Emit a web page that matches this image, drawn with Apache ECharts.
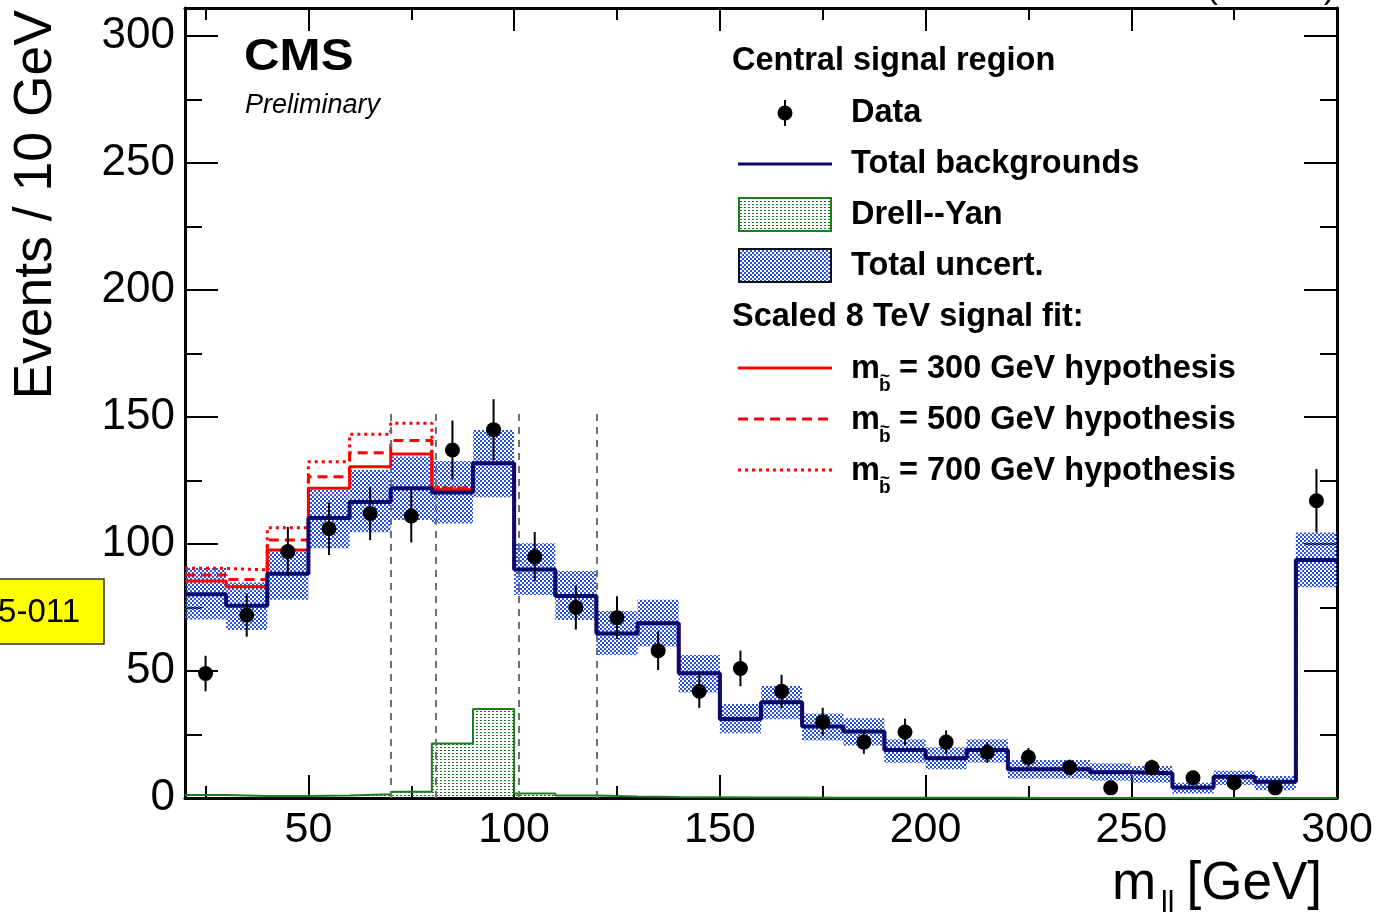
<!DOCTYPE html>
<html>
<head>
<meta charset="utf-8">
<script src="https://cdn.jsdelivr.net/npm/echarts@6/dist/echarts.min.js"></script>
<style>
  html, body { margin: 0; padding: 0; background: #fff; }
  #chart { width: 1381px; height: 920px; }
</style>
</head>
<body>
<div id="chart"></div>
<script>
// bin edges of the m_ll histogram (10 GeV bins)
const binEdges = [20, 30, 40, 50, 60, 70, 80, 90, 100, 110, 120, 130, 140, 150, 160, 170,
  180, 190, 200, 210, 220, 230, 240, 250, 260, 270, 280, 290, 300];
const binCenters = [25, 35, 45, 55, 65, 75, 85, 95, 105, 115, 125, 135, 145, 155, 165, 175,
  185, 195, 205, 215, 225, 235, 245, 255, 265, 275, 285, 295];

const dataVals = [49, 72, 97, 106, 112, 111, 137, 145, 95, 75, 71, 58, 42, 51, 42, 30,
  22, 26, 22, 18, 16, 12, 4, 12, 8, 6, 4, 117];
const dataErr = [7, 8.5, 9.7, 10.3, 10.5, 10.4, 11.6, 12, 9.7, 8.7, 8.4, 7.6, 6.5, 7, 6.5, 5.5,
  4.6, 5.2, 4.6, 4.1, 3.7, 3.1, 2, 3.1, 2.7, 2.3, 2, 12.5];

const totalBkg = [80.2, 75.7, 88.3, 110.2, 116.5, 121.9, 120.3, 131.8, 90.0, 79.5, 64.8, 68.8, 49.1, 31.1, 37.7, 28.1,
  26.2, 18.9, 15.6, 18.9, 11.3, 11.3, 10.1, 9.7, 4.1, 8.4, 6.4, 93.7];
const bkgUp = [90.5, 84.8, 97.0, 121.3, 129.1, 134.4, 132.7, 144.9, 100.3, 89.4, 73.6, 78.0, 56.3, 37.0, 44.1, 33.3,
  31.4, 23.1, 20.0, 23.1, 15.0, 15.0, 13.7, 12.6, 6.0, 10.7, 8.7, 104.5];
const bkgDown = [70.3, 66.1, 78.0, 98.3, 104.6, 109.4, 108.1, 118.4, 79.9, 70.1, 56.3, 59.6, 41.5, 25.5, 31.0, 22.6,
  20.7, 13.9, 11.3, 14.0, 7.7, 7.7, 6.8, 6.0, 1.8, 5.1, 3.1, 83.0];

const drellYan = [1.2, 0.8, 0.8, 1.0, 1.5, 2.5, 21.5, 35.0, 1.8, 1.0, 0.6, 0.4, 0.3, 0.2, 0.2, 0.1,
  0.1, 0.1, 0.1, 0.1, 0, 0, 0, 0, 0, 0, 0, 0];

const sig300 = [85.4, 83.2, 97.6, 121.9, 130.4, 135.4, 121.3, 131.8, 90.0, 79.5, 64.8, 68.8, 49.1, 31.1, 37.7, 28.1,
  26.2, 18.9, 15.6, 18.9, 11.3, 11.3, 10.1, 9.7, 4.1, 8.4, 6.4, 93.7];
const sig500 = [87.8, 86.0, 101.6, 126.5, 135.9, 140.7, 121.8, 131.8, 90.0, 79.5, 64.8, 68.8, 49.1, 31.1, 37.7, 28.1,
  26.2, 18.9, 15.6, 18.9, 11.3, 11.3, 10.1, 9.7, 4.1, 8.4, 6.4, 93.7];
const sig700 = [90.4, 89.8, 106.4, 132.4, 143.2, 147.5, 122.3, 131.8, 90.0, 79.5, 64.8, 68.8, 49.1, 31.1, 37.7, 28.1,
  26.2, 18.9, 15.6, 18.9, 11.3, 11.3, 10.1, 9.7, 4.1, 8.4, 6.4, 93.7];

// Z-window / signal region boundaries
const zWindow = [70, 81, 101, 120];
const zWindowTop = 153;

const xMajor = [50, 100, 150, 200, 250, 300];
const xMinor = [25, 75, 125, 175, 225, 275];
const yMajor = [0, 50, 100, 150, 200, 250, 300];
const yMinor = [25, 75, 125, 175, 225, 275];

const FONT = '"Liberation Sans", Arial, Helvetica, sans-serif';
const NAVY = "#0a0a6e";
const RED = "#ff0000";
const GREEN = "#1b7d1b";

function makePattern(w, h, color, cells) {
  const c = document.createElement("canvas");
  c.width = w;
  c.height = h;
  const ctx = c.getContext("2d");
  ctx.fillStyle = color;
  cells.forEach(([x, y, cw, ch]) => ctx.fillRect(x, y, cw, ch));
  return { image: c, repeat: "repeat" };
}

const bluePattern = makePattern(4, 4, "#2a52e2", [[0, 0, 2, 2], [2, 2, 2, 2]]);
const greenPattern = makePattern(4, 3, "#1b6e1b", [[0, 0, 2, 1]]);

function stepPoints(values) {
  const pts = [];
  values.forEach((v, i) => {
    pts.push([binEdges[i], v]);
    pts.push([binEdges[i + 1], v]);
  });
  return pts;
}

function stepLine(name, values, color, width, dash, z) {
  return {
    name, type: "line", data: stepPoints(values), showSymbol: false, symbol: "none",
    lineStyle: { color, width, type: dash || "solid" }, z, silent: true
  };
}

const bandData = totalBkg.map((v, i) => [binEdges[i], binEdges[i + 1], bkgDown[i], bkgUp[i]]);
const errData = dataVals.map((v, i) => [binCenters[i], v, dataErr[i]]);
const pointData = dataVals.map((v, i) => [binCenters[i], v]);

const hiddenLabel = { show: false };

function xAx(pos, ticks, len, withLine, withLabel) {
  return {
    type: "value", position: pos, min: 20, max: 300,
    axisLine: { show: withLine, onZero: false, lineStyle: { color: "#000", width: 3 } },
    axisTick: { show: true, inside: true, length: len, customValues: ticks, lineStyle: { color: "#000", width: 2 } },
    axisLabel: withLabel ? { customValues: ticks, fontSize: 43, fontFamily: FONT, color: "#000", margin: 11 } : hiddenLabel,
    splitLine: { show: false }
  };
}

function yAx(pos, ticks, len, withLine, withLabel) {
  return {
    type: "value", position: pos, min: 0, max: 311,
    axisLine: { show: withLine, onZero: false, lineStyle: { color: "#000", width: 3 } },
    axisTick: { show: true, inside: true, length: len, customValues: ticks, lineStyle: { color: "#000", width: 2 } },
    axisLabel: withLabel ? { customValues: ticks, fontSize: 44, fontFamily: FONT, color: "#000", margin: 10 } : hiddenLabel,
    splitLine: { show: false }
  };
}

function legendText(x, y, text, size) {
  return {
    type: "text", x, y, silent: true,
    style: { text, font: `bold ${size || 32.5}px ${FONT}`, fill: "#000", align: "left", verticalAlign: "middle" }
  };
}

function massLabel(y, mass) {
  return [
    legendText(851, y, "m"),
    { type: "text", x: 880, y: y + 7, style: { text: "~", font: `bold 17px ${FONT}`, fill: "#000", align: "left", verticalAlign: "middle" } },
    { type: "text", x: 879, y: y + 17, style: { text: "b", font: `bold 19px ${FONT}`, fill: "#000", align: "left", verticalAlign: "middle" } },
    legendText(899, y, `= ${mass} GeV hypothesis`)
  ];
}

const graphics = [
  // CMS label
  { type: "text", x: 244, y: 58, scaleX: 1.12, style: { text: "CMS", font: `bold 44px ${FONT}`, fill: "#000", verticalAlign: "middle" } },
  { type: "text", x: 245, y: 105, style: { text: "Preliminary", font: `italic 27px ${FONT}`, fill: "#000", verticalAlign: "middle" } },
  // cut-off header on top right
  { type: "text", x: 1335, y: 6, style: { text: "(13 TeV)", font: `34px ${FONT}`, fill: "#000", align: "right", verticalAlign: "bottom" } },
  // axis titles
  { type: "text", x: 36, y: 10, rotation: Math.PI / 2, style: { text: "Events / 10 GeV", font: `53.5px ${FONT}`, fill: "#000", align: "right", verticalAlign: "middle" } },
  { type: "text", x: 1112, y: 884, style: { text: "m", font: `53px ${FONT}`, fill: "#000", align: "left", verticalAlign: "middle" } },
  { type: "text", x: 1161, y: 904, style: { text: "ll", font: `30px ${FONT}`, fill: "#000", align: "left", verticalAlign: "middle" } },
  { type: "text", x: 1322, y: 884, style: { text: "[GeV]", font: `53px ${FONT}`, fill: "#000", align: "right", verticalAlign: "middle" } },
  // yellow tag on the left edge
  { type: "rect", shape: { x: -10, y: 579, width: 114, height: 65 }, style: { fill: "#ffff00", stroke: "#333", lineWidth: 1.5 } },
  { type: "text", x: 80, y: 613, style: { text: "5-011", font: `33px ${FONT}`, fill: "#000", align: "right", verticalAlign: "middle" } },
  // legend
  legendText(732, 61, "Central signal region"),
  { type: "line", shape: { x1: 785, y1: 100, x2: 785, y2: 126 }, style: { stroke: "#000", lineWidth: 2 } },
  { type: "circle", shape: { cx: 785, cy: 113, r: 7.5 }, style: { fill: "#000" } },
  legendText(851, 113, "Data"),
  { type: "line", shape: { x1: 738, y1: 164, x2: 832, y2: 164 }, style: { stroke: NAVY, lineWidth: 3 } },
  legendText(851, 164, "Total backgrounds"),
  { type: "rect", shape: { x: 739, y: 198, width: 92, height: 33 }, style: { fill: greenPattern, stroke: GREEN, lineWidth: 2 } },
  legendText(851, 215, "Drell--Yan"),
  { type: "rect", shape: { x: 739, y: 249, width: 92, height: 33 }, style: { fill: bluePattern, stroke: "#111", lineWidth: 2 } },
  legendText(851, 266, "Total uncert."),
  legendText(732, 317, "Scaled 8 TeV signal fit:"),
  { type: "line", shape: { x1: 738, y1: 368, x2: 832, y2: 368 }, style: { stroke: RED, lineWidth: 3 } },
  { type: "line", shape: { x1: 738, y1: 419, x2: 832, y2: 419 }, style: { stroke: RED, lineWidth: 3, lineDash: [10, 6] } },
  { type: "line", shape: { x1: 738, y1: 470, x2: 832, y2: 470 }, style: { stroke: RED, lineWidth: 3, lineDash: [3, 4] } },
  ...massLabel(369, 300),
  ...massLabel(420, 500),
  ...massLabel(471, 700)
];

const chart = echarts.init(document.getElementById("chart"), null, { renderer: "canvas" });
chart.setOption({
  animation: false,
  backgroundColor: "#fff",
  grid: { left: 185, right: 44, top: 8, bottom: 122 },
  xAxis: [
    xAx("bottom", xMajor, 23, true, true),
    xAx("bottom", xMinor, 12, false, false),
    xAx("top", xMajor, 23, true, false),
    xAx("top", xMinor, 12, false, false)
  ],
  yAxis: [
    yAx("left", yMajor, 33, true, true),
    yAx("left", yMinor, 17, false, false),
    yAx("right", yMajor, 33, true, false),
    yAx("right", yMinor, 17, false, false)
  ],
  series: [
    {
      name: "Total uncert.", type: "custom", data: bandData, z: 2, silent: true,
      encode: { x: [0, 1], y: [2, 3] },
      renderItem: (params, api) => {
        const p1 = api.coord([api.value(0), api.value(3)]);
        const p2 = api.coord([api.value(1), api.value(2)]);
        return {
          type: "rect",
          shape: { x: p1[0], y: p1[1], width: p2[0] - p1[0], height: p2[1] - p1[1] },
          style: { fill: bluePattern }
        };
      }
    },
    {
      name: "Drell--Yan", type: "line", data: stepPoints(drellYan), showSymbol: false, symbol: "none",
      lineStyle: { color: GREEN, width: 2 }, areaStyle: { color: greenPattern, opacity: 1 }, z: 3, silent: true,
      markLine: {
        silent: true, symbol: "none", label: { show: false },
        lineStyle: { color: "#707070", width: 2, type: [7, 6] },
        data: zWindow.map(x => [{ coord: [x, 0] }, { coord: [x, zWindowTop] }])
      }
    },
    stepLine("700", sig700, RED, 3, [3, 4], 4),
    stepLine("500", sig500, RED, 3, [10, 6], 4),
    stepLine("300", sig300, RED, 3, "solid", 5),
    stepLine("Total backgrounds", totalBkg, NAVY, 4, "solid", 6),
    {
      name: "errors", type: "custom", data: errData, z: 7, silent: true,
      encode: { x: 0, y: 1 },
      renderItem: (params, api) => {
        const x = api.value(0), v = api.value(1), e = api.value(2);
        const a = api.coord([x, v - e]);
        const b = api.coord([x, v + e]);
        return { type: "line", shape: { x1: a[0], y1: a[1], x2: b[0], y2: b[1] }, style: { stroke: "#000", lineWidth: 2 } };
      }
    },
    {
      name: "Data", type: "scatter", data: pointData, symbol: "circle", symbolSize: 15,
      itemStyle: { color: "#000", opacity: 1 }, z: 8, silent: true
    }
  ],
  graphic: graphics
});
</script>
</body>
</html>
